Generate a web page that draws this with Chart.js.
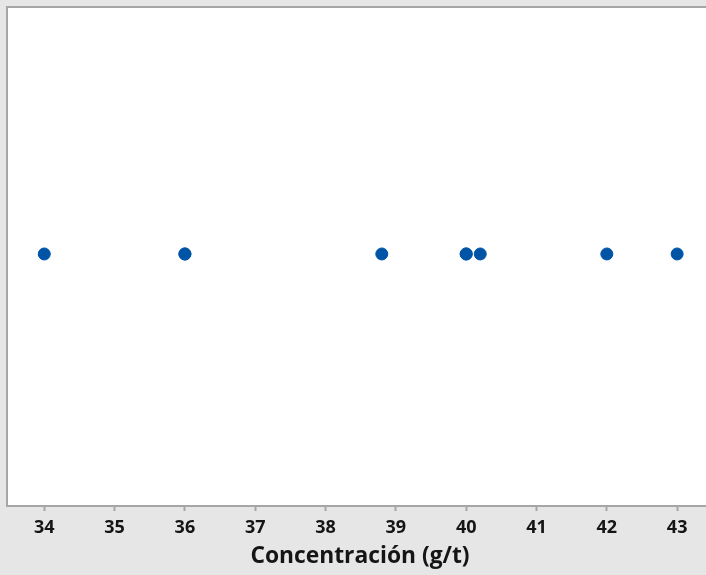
<!DOCTYPE html>
<html>
<head>
    <title>Concentración</title>
    <script src="https://cdn.jsdelivr.net/npm/chart.js"></script>
    <style>
        html, body { margin: 0; background: #e6e6e6; overflow: hidden; }
        #wrap { width: 720px; height: 575px; }
    </style>
</head>
<body>
    <div id="wrap"><canvas id="dotChart"></canvas></div>
    <script>
        // valores de concentración (g/t)
        var concentraciones = [34, 36, 36, 38.8, 40, 40, 40.2, 42, 43];
        var xTicks = [34, 35, 36, 37, 38, 39, 40, 41, 42, 43];
        var ejeTitulo = 'Concentración (g/t)';

        var puntos = concentraciones.map(function (v) {
            return { x: v, y: 1 };
        });

        // fondo gris y área blanca con borde
        var fondo = {
            id: 'fondo',
            beforeDraw: function (chart) {
                var ctx = chart.ctx, a = chart.chartArea;
                ctx.save();
                ctx.fillStyle = '#e6e6e6';
                ctx.fillRect(0, 0, chart.width, chart.height);
                ctx.fillStyle = '#ffffff';
                ctx.fillRect(a.left, a.top, chart.width - a.left, a.bottom - a.top);
                ctx.restore();
            },
            afterDraw: function (chart) {
                var ctx = chart.ctx, a = chart.chartArea;
                ctx.save();
                ctx.strokeStyle = '#a6a6a6';
                ctx.lineWidth = 2;
                ctx.beginPath();
                ctx.moveTo(a.left, a.bottom);
                ctx.lineTo(a.left, a.top);
                ctx.lineTo(chart.width + 2, a.top);
                ctx.moveTo(a.left, a.bottom);
                ctx.lineTo(chart.width + 2, a.bottom);
                ctx.stroke();
                ctx.restore();
            }
        };

        var ctx = document.getElementById('dotChart').getContext('2d');
        new Chart(ctx, {
            type: 'scatter',
            data: {
                datasets: [{
                    data: puntos,
                    backgroundColor: '#0054a6',
                    borderColor: '#0054a6',
                    pointRadius: 6,
                    pointHoverRadius: 6
                }]
            },
            options: {
                responsive: true,
                maintainAspectRatio: false,
                animation: false,
                layout: { padding: { left: 6, top: 5, right: 0, bottom: 0 } },
                plugins: {
                    legend: { display: false },
                    tooltip: { enabled: false }
                },
                scales: {
                    x: {
                        type: 'linear',
                        min: 33.47,
                        max: 43.51,
                        afterBuildTicks: function (axis) {
                            axis.ticks = xTicks.map(function (v) { return { value: v }; });
                        },
                        afterFit: function (axis) {
                            axis.height = 69;
                        },
                        grid: {
                            drawOnChartArea: false,
                            drawTicks: true,
                            tickLength: 5,
                            tickWidth: 2,
                            tickColor: '#a6a6a6'
                        },
                        border: { display: true, color: '#a6a6a6', width: 2 },
                        ticks: {
                            color: '#151515',
                            padding: 6,
                            autoSkip: false,
                            maxRotation: 0,
                            font: { family: 'Open Sans', size: 18, weight: '700' }
                        },
                        title: {
                            display: true,
                            text: ejeTitulo,
                            color: '#151515',
                            padding: { top: 4, bottom: 5 },
                            font: { family: 'Open Sans', size: 22.8, weight: '700' }
                        }
                    },
                    y: {
                        display: false,
                        min: 0,
                        max: 1.98
                    }
                }
            },
            plugins: [fondo]
        });
    </script>
</body>
</html>
